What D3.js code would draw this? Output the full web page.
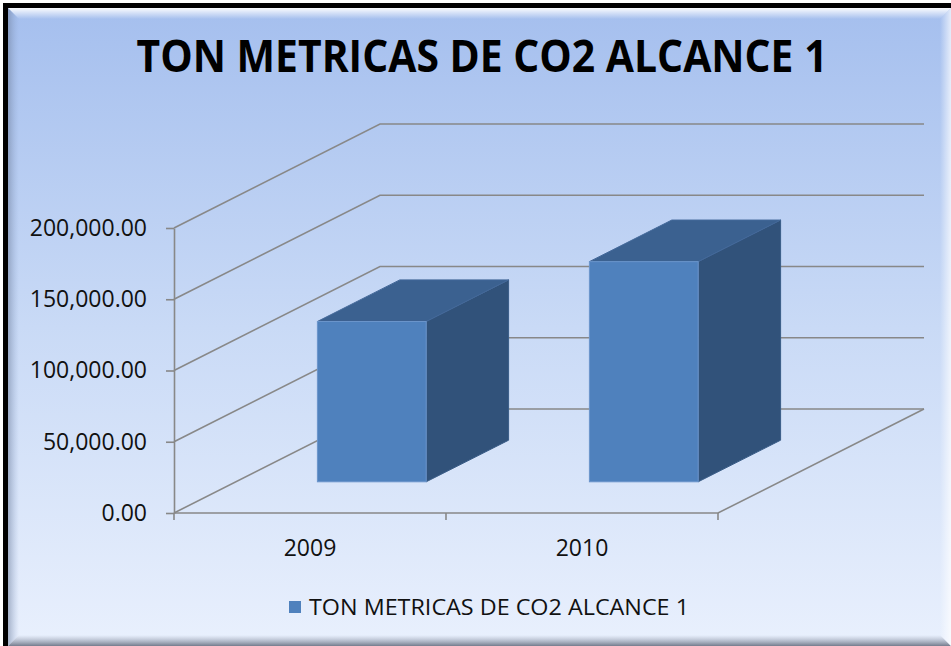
<!DOCTYPE html>
<html>
<head>
<meta charset="utf-8">
<script src="https://cdn.jsdelivr.net/npm/d3@7/dist/d3.min.js"></script>
<style>
  html, body { margin: 0; padding: 0; background: #ffffff; }
  svg { display: block; }
</style>
</head>
<body>
<svg id="chart" width="951" height="646"></svg>
<script>
// ---------- data ----------
const chartTitle = "TON METRICAS DE CO2 ALCANCE 1";
const seriesName = "TON METRICAS DE CO2 ALCANCE 1";
const categories = ["2009", "2010"];
const values = [112500, 154500];
const yTicks = [0, 50000, 100000, 150000, 200000];

// ---------- setup ----------
const W = 951, H = 646;
const svg = d3.select("#chart");
const defs = svg.append("defs");

const bg = defs.append("linearGradient").attr("id", "bg").attr("x1", 0).attr("y1", 0).attr("x2", 0).attr("y2", 1);
bg.append("stop").attr("offset", "0%").attr("stop-color", "#a5bfee");
bg.append("stop").attr("offset", "50%").attr("stop-color", "#c9daf6");
bg.append("stop").attr("offset", "100%").attr("stop-color", "#e9f0fd");

function grad(id, x2, y2, stops) {
  const g = defs.append("linearGradient").attr("id", id)
    .attr("x1", 0).attr("y1", 0).attr("x2", x2).attr("y2", y2);
  stops.forEach(s => g.append("stop").attr("offset", s[0]).attr("stop-color", s[1]).attr("stop-opacity", s[2]));
}
grad("bevTop", 0, 1, [["0%", "#ffffff", 0.95], ["100%", "#ffffff", 0]]);
grad("bevLeft", 1, 0, [["0%", "#6f7f9c", 0.55], ["100%", "#8fa6cf", 0]]);
grad("bevBottom", 0, 1, [["0%", "#9aa3b5", 0], ["100%", "#6f7687", 0.95]]);
grad("bevRight", 1, 0, [["0%", "#ffffff", 0], ["100%", "#ffffff", 0.7]]);

// outer frame
svg.append("rect").attr("x", 3).attr("y", 3).attr("width", W).attr("height", H).attr("fill", "#000");
const L = 8, T = 8, R = W, B = H;
svg.append("rect").attr("x", L).attr("y", T).attr("width", R - L).attr("height", B - T).attr("fill", "url(#bg)");
const bv = 11;
svg.append("polygon").attr("points", `${L},${T} ${R},${T} ${R - bv},${T + bv} ${L + bv},${T + bv}`).attr("fill", "url(#bevTop)");
svg.append("polygon").attr("points", `${L},${T} ${L + bv},${T + bv} ${L + bv},${B - bv} ${L},${B}`).attr("fill", "url(#bevLeft)");
svg.append("polygon").attr("points", `${L},${B} ${L + bv},${B - bv} ${R - bv},${B - bv} ${R},${B}`).attr("fill", "url(#bevBottom)");
svg.append("polygon").attr("points", `${R},${T} ${R},${B} ${R - bv},${B - bv} ${R - bv},${T + bv}`).attr("fill", "url(#bevRight)");

// ---------- scales ----------
const x = d3.scaleBand().domain(categories).range([174, 718]).paddingInner(0.6).paddingOuter(0.3);
const y = d3.scaleLinear().domain([0, 200000]).range([513, 228]);
const depthX = d3.scaleLinear().domain([0, 1]).range([0, 206]);
const depthY = d3.scaleLinear().domain([0, 1]).range([0, -104]);
const barDepth0 = 0.3, barDepth1 = 0.7;

const gridColor = "#888888";
const backRight = x.range()[1] + depthX(1);

// gridlines (side wall + back wall)
svg.append("g").selectAll("path").data(yTicks).join("path")
  .attr("d", t => {
    const y0 = y(t);
    return `M${x.range()[0]},${y0} L${x.range()[0] + depthX(1)},${y0 + depthY(1)} L${backRight},${y0 + depthY(1)}`;
  })
  .attr("fill", "none").attr("stroke", gridColor).attr("stroke-width", 1.6);

// floor right edge + front edge
svg.append("path")
  .attr("d", `M${x.range()[0]},${y(0)} L${x.range()[1]},${y(0)} L${backRight},${y(0) + depthY(1)}`)
  .attr("fill", "none").attr("stroke", gridColor).attr("stroke-width", 1.6);

// bottom ticks at category boundaries
const boundaries = [x.range()[0]].concat(categories.map(c => x(c) + x.bandwidth() + x.step() * x.paddingInner() / 2));
svg.append("g").selectAll("line").data(boundaries).join("line")
  .attr("x1", d => d).attr("x2", d => d).attr("y1", y(0)).attr("y2", y(0) + 7)
  .attr("stroke", gridColor).attr("stroke-width", 1.6);

// y axis
const yAxis = d3.axisLeft(y).tickValues(yTicks).tickSize(8).tickSizeOuter(0).tickPadding(19)
  .tickFormat(d3.format(",.2f"));
const gy = svg.append("g").attr("transform", `translate(${x.range()[0]},0)`).call(yAxis);
gy.select(".domain").attr("stroke", gridColor).attr("stroke-width", 1.6);
gy.selectAll(".tick line").attr("stroke", gridColor).attr("stroke-width", 1.6);
gy.selectAll(".tick text").attr("font-family", "'Open Sans', sans-serif").attr("font-size", 23).attr("fill", "#111");

// ---------- bars ----------
const data = categories.map((c, i) => ({ c, v: values[i] }));
const bars = svg.append("g").selectAll("g").data(data).join("g");
function face(d) {
  const fx0 = x(d.c) + depthX(barDepth0);
  const fx1 = fx0 + x.bandwidth();
  const fyT = y(d.v) + depthY(barDepth0);
  const fyB = y(0) + depthY(barDepth0);
  const ddx = depthX(barDepth1) - depthX(barDepth0);
  const ddy = depthY(barDepth1) - depthY(barDepth0);
  return { fx0, fx1, fyT, fyB, ddx, ddy };
}
// right side
bars.append("polygon").attr("points", d => {
  const f = face(d);
  return `${f.fx1},${f.fyT} ${f.fx1 + f.ddx},${f.fyT + f.ddy} ${f.fx1 + f.ddx},${f.fyB + f.ddy} ${f.fx1},${f.fyB}`;
}).attr("fill", "#31527a").attr("stroke", "#3a5d88").attr("stroke-width", 1);
// top
bars.append("polygon").attr("points", d => {
  const f = face(d);
  return `${f.fx0},${f.fyT} ${f.fx0 + f.ddx},${f.fyT + f.ddy} ${f.fx1 + f.ddx},${f.fyT + f.ddy} ${f.fx1},${f.fyT}`;
}).attr("fill", "#3b6190").attr("stroke", "#44699a").attr("stroke-width", 1);
// front
bars.append("rect")
  .attr("x", d => face(d).fx0).attr("y", d => face(d).fyT)
  .attr("width", x.bandwidth()).attr("height", d => face(d).fyB - face(d).fyT)
  .attr("fill", "#4f81bd").attr("stroke", "#6b95cb").attr("stroke-width", 1);

// category labels
svg.append("g").selectAll("text").data(categories).join("text")
  .attr("x", c => x(c) + x.bandwidth() / 2).attr("y", 556)
  .attr("text-anchor", "middle")
  .attr("font-family", "'Open Sans', sans-serif").attr("font-size", 23).attr("fill", "#111")
  .text(c => c);

// title
svg.append("text").attr("x", 482).attr("y", 72).attr("text-anchor", "middle")
  .attr("font-family", "'Open Sans', sans-serif").attr("font-weight", "bold").attr("font-size", 44)
  .attr("textLength", 691).attr("lengthAdjust", "spacingAndGlyphs")
  .attr("fill", "#000").text(chartTitle);

// legend
svg.append("rect").attr("x", 289).attr("y", 601).attr("width", 12).attr("height", 12).attr("fill", "#4f81bd");
svg.append("text").attr("x", 309).attr("y", 615)
  .attr("font-family", "'Open Sans', sans-serif").attr("font-size", 21)
  .attr("textLength", 380).attr("lengthAdjust", "spacingAndGlyphs")
  .attr("fill", "#111").text(seriesName);
</script>
</body>
</html>
